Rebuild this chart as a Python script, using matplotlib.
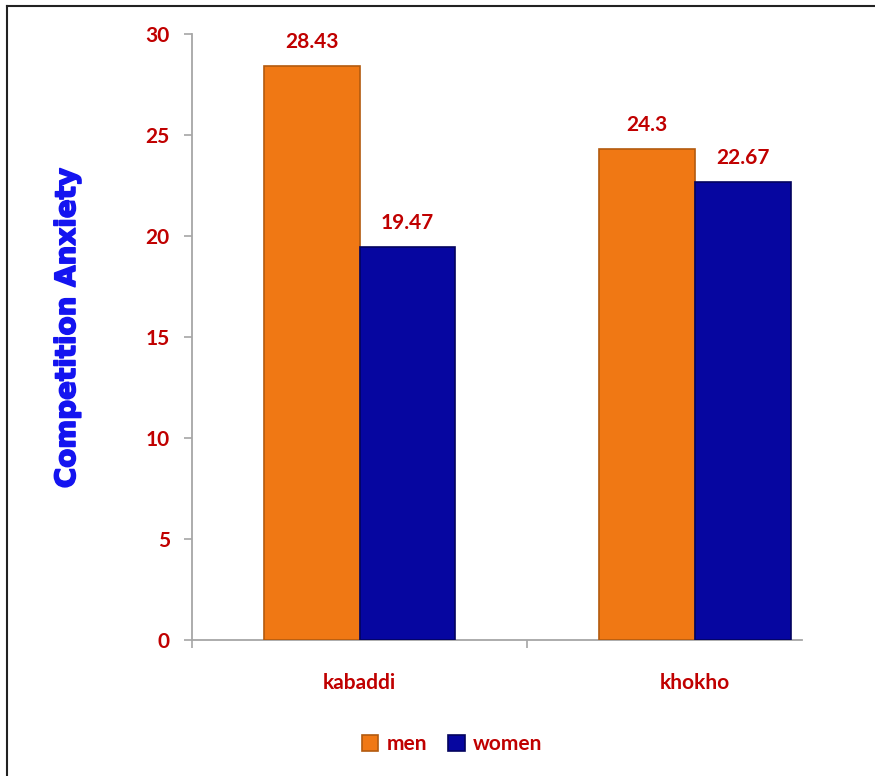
import numpy as np
import matplotlib.pyplot as plt
import matplotlib.patheffects as pe
from matplotlib.lines import Line2D

# data
games = ['kabaddi', 'khokho']
men = [28.43, 24.3]
women = [19.47, 22.67]
men_labels = ['28.43', '24.3']
women_labels = ['19.47', '22.67']
yticks = [0, 5, 10, 15, 20, 25, 30]

red = '#C00000'
orange = '#F07814'
blue = '#0606A0'
grey = '#A6A6A6'

fig = plt.figure(figsize=(8.75, 7.76), dpi=100)
ax = fig.add_axes([192 / 875, 1 - 640 / 776, 610 / 875, 606 / 776])

x = np.arange(len(games))
w = 0.286
b1 = ax.bar(x - w / 2, men, w, color=orange, edgecolor='#B35A0E', linewidth=1.2, label='men', zorder=3)
b2 = ax.bar(x + w / 2, women, w, color=blue, edgecolor='#03035E', linewidth=1.2, label='women', zorder=3)

for bars, labs in [(b1, men_labels), (b2, women_labels)]:
    for r, lab in zip(bars, labs):
        ax.annotate(lab, (r.get_x() + r.get_width() / 2, r.get_height()),
                    xytext=(0, 10), textcoords='offset points', ha='center', va='bottom',
                    color=red, fontsize=15, fontweight='bold', family='Lato')

ax.set_yticks(yticks)
ax.set_xticks(x)
ax.set_xticklabels(games)
ax.set_xticks([-0.5, 0.5, 1.5], minor=True)
ax.set_xlim(-0.5, 1.32)
ax.set_ylim(0, 30)

for s in ['top', 'right']:
    ax.spines[s].set_visible(False)
for s in ['left', 'bottom']:
    ax.spines[s].set_color(grey)
    ax.spines[s].set_linewidth(1.3)

ax.tick_params(axis='y', length=6, width=1.2, color=grey, pad=10,
               labelcolor=red, labelsize=15)
ax.tick_params(axis='x', which='major', length=0, pad=24, labelcolor=red, labelsize=15)
ax.tick_params(axis='x', which='minor', length=6, width=1.2, color=grey)
for t in ax.get_xticklabels() + ax.get_yticklabels():
    t.set_fontweight('bold')
    t.set_family('Lato')

fig.text(67 / 875, 1 - 328 / 776, 'Competition Anxiety', rotation=90, ha='center', va='center',
         color='#1414F0', fontsize=20, fontweight='bold', family='DejaVu Sans',
         path_effects=[pe.withStroke(linewidth=1.2, foreground='#1414F0')])

fig.legend(handles=[b1, b2], labels=['men', 'women'], loc='center',
           bbox_to_anchor=(452 / 875, 1 - 744 / 776), ncol=2, frameon=False,
           handlelength=0.8, handleheight=0.8, handletextpad=0.4, columnspacing=1.0,
           prop={'family': 'Lato', 'weight': 'bold', 'size': 15}, labelcolor=red)

# frame of the original picture (only left and top edges are visible)
fig.add_artist(Line2D([7 / 875, 7 / 875], [0, 1 - 6 / 776], color='#222222', lw=1.5))
fig.add_artist(Line2D([7 / 875, 1], [1 - 6 / 776, 1 - 6 / 776], color='#222222', lw=1.5))

fig.savefig('out.png', dpi=100)
